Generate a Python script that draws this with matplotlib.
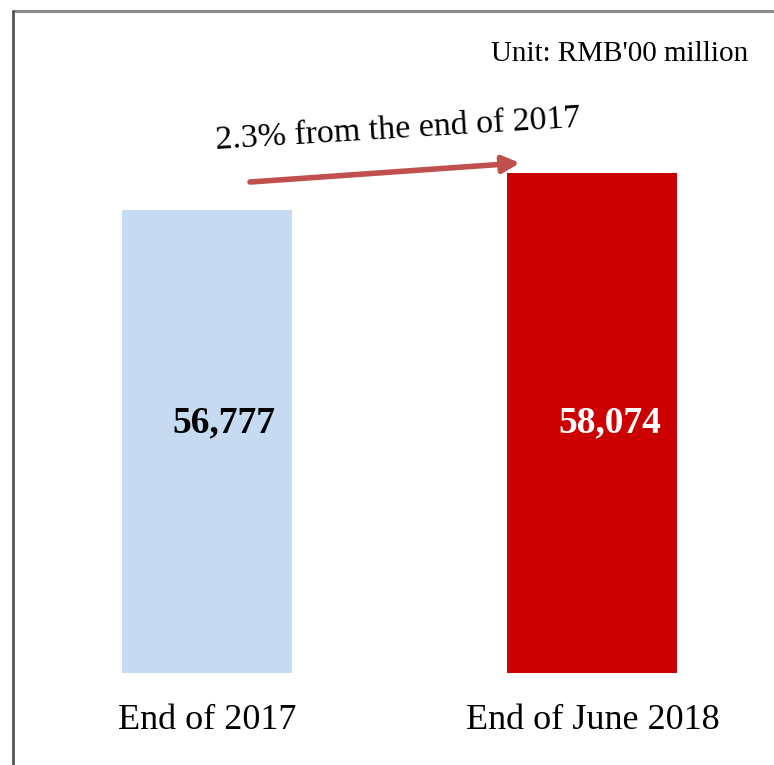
import matplotlib
matplotlib.use("Agg")
import matplotlib.pyplot as plt
from matplotlib.lines import Line2D
from matplotlib.transforms import blended_transform_factory

categories = ["End of 2017", "End of June 2018"]
values = [56777, 58074]
value_labels = ["56,777", "58,074"]
bar_colors = ["#C6DBF2", "#CC0000"]
label_colors = ["black", "white"]
unit_text = "Unit: RMB'00 million"
change_text = "2.3% from the end of 2017"

plt.rcParams['font.family'] = ['Liberation Serif', 'DejaVu Serif']

W, H = 774, 765
fig = plt.figure(figsize=(W / 100, H / 100), dpi=100)
ax = fig.add_axes([0, (H - 673) / H, 1, (673 - 12) / H])

x = list(range(len(categories)))
ax.bar(x, values, width=0.441, color=bar_colors, zorder=2)
ax.set_xlim(-0.537, 1.471)
ax.set_ylim(40547, 63717)
for s in ax.spines.values():
    s.set_visible(False)
ax.set_yticks([])
ax.set_xticks(x)
ax.set_xticklabels(categories, fontsize=26)
ax.tick_params(axis='x', length=0, pad=22)
ax.patch.set_alpha(0)

trans = blended_transform_factory(ax.transData, ax.transAxes)
for i, (lab, c) in enumerate(zip(value_labels, label_colors)):
    ax.text(i + 0.045, 0.378, lab, transform=trans, ha='center', va='center',
            fontsize=27, fontweight='bold', color=c)

ax.annotate("", xy=(0.812, values[1] + 350), xytext=(0.1115, values[0] + 980),
            arrowprops=dict(arrowstyle="-|>,head_length=1.0,head_width=0.5",
                            color="#C0504D", lw=4, shrinkA=0, shrinkB=0))
ax.text(0.495, 59600, change_text, ha='center', va='center', fontsize=24.5,
        rotation=3.5, rotation_mode='anchor')

fig.text(748 / W, 1 - 54 / H, unit_text, ha='right', va='center', fontsize=21)

fig.add_artist(Line2D([12 / W, 1], [1 - 11 / H, 1 - 11 / H], transform=fig.transFigure,
                      color="#8C8C8C", lw=2.2, solid_capstyle='butt'))
fig.add_artist(Line2D([13 / W, 13 / W], [0, 1 - 10 / H], transform=fig.transFigure,
                      color="#555555", lw=2.0, solid_capstyle='butt'))

fig.savefig("out.png", dpi=100)
